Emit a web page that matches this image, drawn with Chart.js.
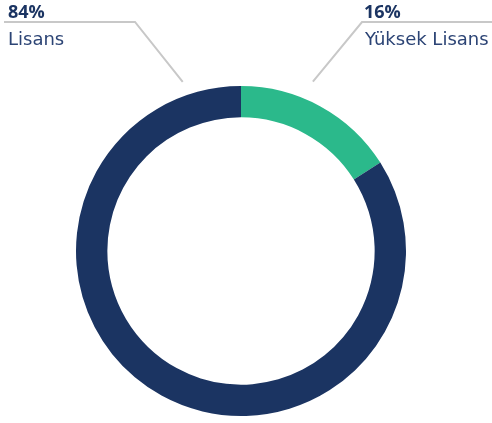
<!DOCTYPE html>
<html>
<head>
<meta charset="utf-8">
<script src="https://cdn.jsdelivr.net/npm/chart.js@4/dist/chart.umd.min.js"></script>
<style>
    html, body { margin: 0; padding: 0; background: #fff; }
    #wrap { width: 492px; height: 423px; }
</style>
</head>
<body>
<div id="wrap"><canvas id="education"></canvas></div>
<script>
const labels = ["Yüksek Lisans", "Lisans"];
const values = [16, 84];
const colors = ["#2bb98b", "#1b3462"];

// leader lines + labels, placed around the ring
const calloutPlugin = {
    id: "callouts",
    afterDraw(chart) {
        const ctx = chart.ctx;
        const arcs = chart.getDatasetMeta(0).data;
        const cx = arcs[0].x;
        const cy = arcs[0].y;
        const r = arcs[0].outerRadius;
        const total = values.reduce((a, b) => a + b, 0);
        const spots = [
            { angle: 23, dist: 19, elbowX: 362, endX: 492, textX: 364, nameX: 365 },
            { angle: -19, dist: 14, elbowX: 135, endX: 4, textX: 8, nameX: 8 },
        ];
        const lineY = 22;

        ctx.save();
        spots.forEach((s, i) => {
            const a = (s.angle * Math.PI) / 180;
            const px = cx + Math.sin(a) * (r + s.dist);
            const py = cy - Math.cos(a) * (r + s.dist);
            ctx.strokeStyle = "#c8c8c8";
            ctx.lineWidth = 2;
            ctx.beginPath();
            ctx.moveTo(px, py);
            ctx.lineTo(s.elbowX, lineY);
            ctx.lineTo(s.endX, lineY);
            ctx.stroke();

            const pct = Math.round((values[i] / total) * 100) + "%";
            ctx.textAlign = "left";
            ctx.textBaseline = "alphabetic";
            ctx.fillStyle = "#1b3462";
            ctx.font = "bold 18px 'Open Sans'";
            ctx.fillText(pct, s.textX, 18);
            ctx.fillStyle = "#2c4475";
            ctx.font = "18px 'DejaVu Sans'";
            ctx.fillText(labels[i], s.nameX, 45);
        });
        ctx.restore();
    },
};

new Chart(document.getElementById("education"), {
    type: "doughnut",
    data: {
        labels: labels,
        datasets: [
            {
                data: values,
                backgroundColor: colors,
                borderWidth: 0,
            },
        ],
    },
    options: {
        responsive: true,
        maintainAspectRatio: false,
        animation: false,
        cutout: "81%",
        layout: {
            padding: { left: 76, right: 86, top: 86, bottom: 7 },
        },
        plugins: {
            legend: { display: false },
            tooltip: { enabled: false },
        },
    },
    plugins: [calloutPlugin],
});
</script>
</body>
</html>
